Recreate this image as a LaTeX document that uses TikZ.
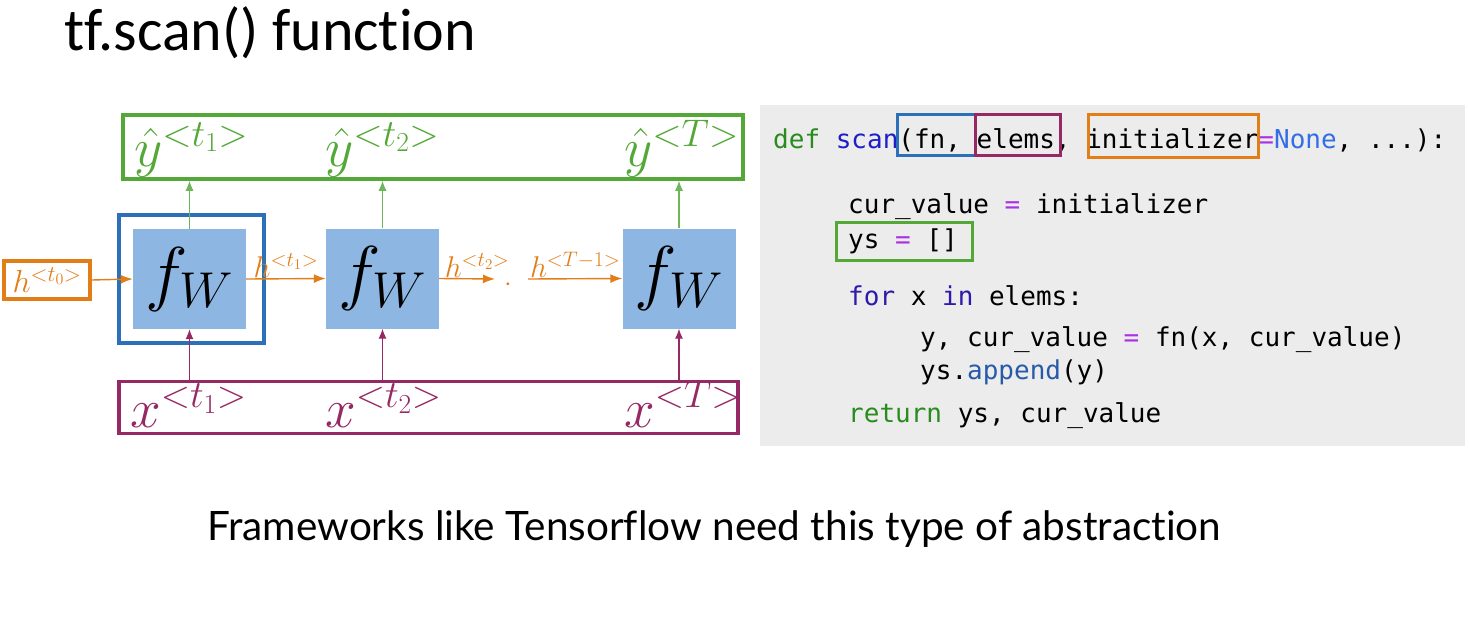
\RequirePackage{fix-cm}
\documentclass[tikz,border=0pt]{standalone}
\usepackage{fontspec}
\setmainfont{Lato}[Ligatures=NoCommon]
\newfontfamily\titlefont{Carlito}[Ligatures=NoCommon]
\newfontfamily\codefont{DejaVu Sans Mono}
\usetikzlibrary{arrows.meta}

\definecolor{outgreen}{RGB}{84,168,56}
\definecolor{arrgreen}{RGB}{110,182,90}
\definecolor{cellblue}{RGB}{44,112,184}
\definecolor{fwfill}{RGB}{141,182,226}
\definecolor{hor}{RGB}{226,126,24}
\definecolor{inpurple}{RGB}{150,40,100}
\definecolor{codebg}{RGB}{236,236,236}
\definecolor{kwgreen}{RGB}{40,140,30}
\definecolor{fnblue}{RGB}{30,30,200}
\definecolor{nonec}{RGB}{50,110,230}
\definecolor{opc}{RGB}{170,50,230}
\definecolor{loopc}{RGB}{45,25,170}
\definecolor{methc}{RGB}{40,90,170}

\tikzset{
  fwbox/.style={fill=fwfill, minimum width=113pt, minimum height=100pt, inner sep=0pt,
    font=\fontsize{72}{74}\selectfont},
  framebox/.style={draw, line width=3.5pt, inner sep=0pt},
  biglab/.style={font=\fontsize{55}{57}\selectfont, inner sep=0pt},
  smalllab/.style={font=\fontsize{30}{32}\selectfont, inner sep=1pt, text=hor},
  harr/.style={draw=hor, line width=1.4pt, -{Latex[length=12pt,width=9pt]}},
  garr/.style={draw=arrgreen, line width=1.2pt, -{Latex[length=10pt,width=8pt]}},
  parr/.style={draw=inpurple, line width=1.2pt, -{Latex[length=10pt,width=8pt]}},
  codeline/.style={anchor=base west, inner sep=0pt, font=\codefont\fontsize{26}{28}\selectfont},
  hl/.style={line width=3pt},
}

\begin{document}
\begin{tikzpicture}[x=1pt,y=-1pt]
\useasboundingbox (0,0) rectangle (1469,643);

% title and caption
\node[anchor=base west, inner sep=0pt, font=\titlefont\fontsize{60}{62}\selectfont] (title) at (64,50) {tf.scan() function};
\node[anchor=base west, inner sep=0pt, font=\fontsize{40.5}{42}\selectfont] (caption) at (207,540) {Frameworks like Tensorflow need this type of abstraction};

% output and input bands
\node[framebox, draw=outgreen, minimum width=620pt, minimum height=64pt] (ybox) at (433,147) {};
\node[framebox, draw=inpurple, minimum width=619pt, minimum height=52pt] (xbox) at (428.5,407.5) {};

% recurrent cells
\node[fwbox] (f1) at (189.5,279) {$f_W$};
\node[fwbox] (f2) at (382.5,278.5) {$f_W$};
\node[fwbox] (f3) at (679,278.5) {$f_W$};
\node[framebox, draw=cellblue, minimum width=145pt, minimum height=128pt] (fn) at (191.5,279) {};

% initial state
\node[framebox, draw=hor, minimum width=86pt, minimum height=38pt] (h0) at (47,280) {};
\node[smalllab, font=\fontsize{32}{34}\selectfont, inner sep=0pt] (h0lab) at (h0.center) {$h^{<t_0>}$};

% labels of outputs and inputs
\node[biglab, text=outgreen, anchor=south west] (y1) at (134,177) {$\hat{y}^{<t_1>}$};
\node[biglab, text=outgreen, anchor=south west] (y2) at (325,177) {$\hat{y}^{<t_2>}$};
\node[biglab, text=outgreen, anchor=south west] (y3) at (624,177) {$\hat{y}^{<T>}$};
\node[biglab, text=inpurple, anchor=south west] (x1) at (130,428) {$x^{<t_1>}$};
\node[biglab, text=inpurple, anchor=south west] (x2) at (325,428) {$x^{<t_2>}$};
\node[biglab, text=inpurple, anchor=south west] (x3) at (624,428) {$x^{<T>}$};

% state flow
\coordinate (d1) at (495,279);
\coordinate (d2) at (528,279);
\draw[harr] (h0.east) -- (f1.west);
\draw[harr] (f1.east) -- (f2.west) node[smalllab, pos=0.5, above] (h1) {$h^{<t_1>}$};
\draw[harr] (f2.east) -- (d1) node[smalllab, pos=0.5, above, xshift=10pt] (h2) {$h^{<t_2>}$};
\node[text=hor, font=\fontsize{22}{22}\selectfont, inner sep=0pt] (dots) at (508,284) {.};
\draw[harr] (d2) -- (f3.west) node[smalllab, pos=0.5, above] (hT) {$h^{<T-1>}$};

% outputs and inputs
\draw[garr] (f1.north) -- (f1.north |- ybox.south);
\draw[garr] (f2.north) -- (f2.north |- ybox.south);
\draw[garr] (f3.north) -- (f3.north |- ybox.south);
\draw[parr] (f1.south |- xbox.north) -- (f1.south);
\draw[parr] (f2.south |- xbox.north) -- (f2.south);
\draw[parr] (f3.south |- xbox.north) -- (f3.south);

% code panel
\fill[codebg] (760,105) rectangle (1465,446);
\node[codeline] (c1) at (773,148) {\textcolor{kwgreen}{def} \textcolor{fnblue}{scan}(fn, elems, initializer\textcolor{opc}{=}\textcolor{nonec}{None}, ...):};
\node[codeline] (c2) at (848,213) {cur\_value \textcolor{opc}{=} initializer};
\node[codeline] (c3) at (848,248) {ys \textcolor{opc}{=} []};
\node[codeline] (c4) at (848,305) {\textcolor{loopc}{for} x \textcolor{loopc}{in} elems:};
\node[codeline] (c5) at (920,346) {y, cur\_value \textcolor{opc}{=} fn(x, cur\_value)};
\node[codeline] (c6) at (920,379) {ys.\textcolor{methc}{append}(y)};
\node[codeline] (c7) at (848,422) {\textcolor{kwgreen}{return} ys, cur\_value};

% argument highlights
\draw[hl, cellblue] (897,114) rectangle (975,155);
\draw[hl, inpurple] (975,114) rectangle (1060,155);
\draw[hl, hor] (1088,114) rectangle (1258,157);
\draw[hl, outgreen] (836,222) rectangle (972,260);
\end{tikzpicture}
\end{document}
